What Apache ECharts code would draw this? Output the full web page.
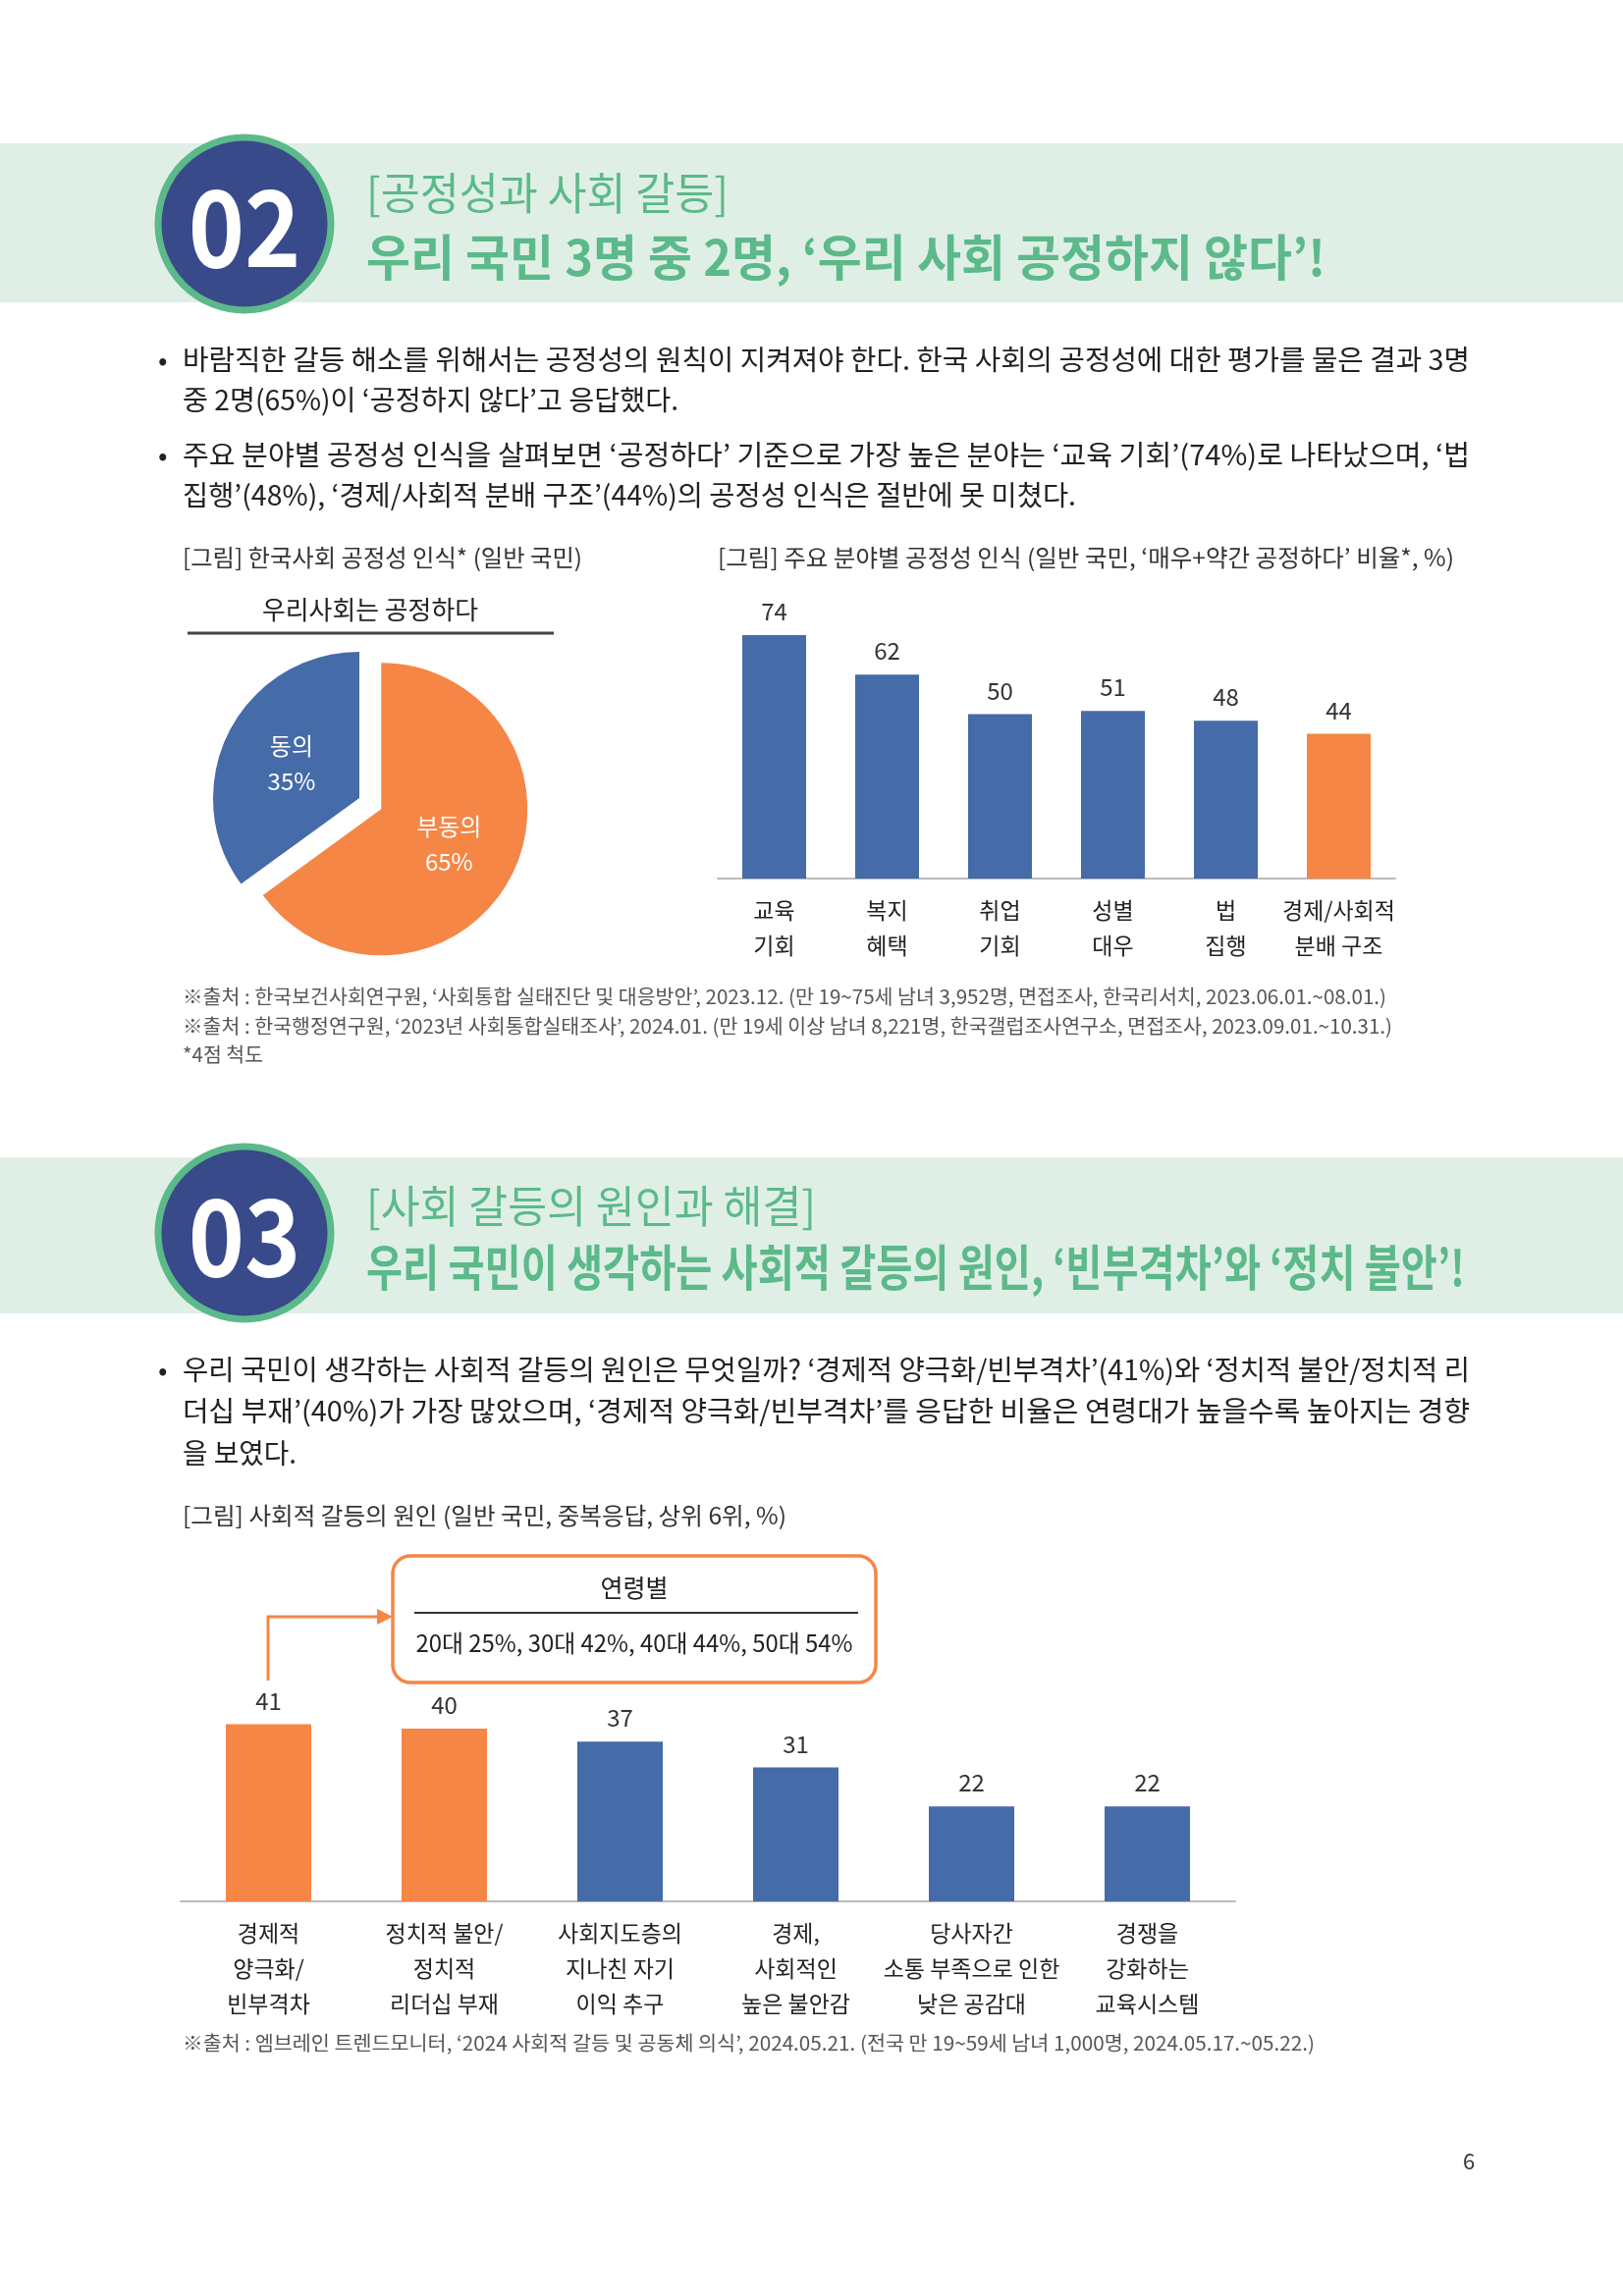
<!DOCTYPE html>
<html><head><meta charset="utf-8">
<script src="https://cdn.jsdelivr.net/npm/echarts@6/dist/echarts.min.js"></script>
<style>html,body{margin:0;padding:0;background:#fff}#c{width:1653px;height:2339px}</style>
</head><body><div id="c"></div>
<script>
const pieNames = ['동의', '부동의'];
const pieValues = [35, 65];
const fieldCats = ['교육\n기회', '복지\n혜택', '취업\n기회', '성별\n대우', '법\n집행', '경제/사회적\n분배 구조'];
const fieldValues = [74, 62, 50, 51, 48, 44];
const causeCats = ['경제적\n양극화/\n빈부격차', '정치적 불안/\n정치적\n리더십 부재', '사회지도층의\n지나친 자기\n이익 추구', '경제,\n사회적인\n높은 불안감', '당사자간\n소통 부족으로 인한\n낮은 공감대', '경쟁을\n강화하는\n교육시스템'];
const causeValues = [41, 40, 37, 31, 22, 22];
const ageText = '20대 25%, 30대 42%, 40대 44%, 50대 54%';

const BLUE = '#456ba8', ORANGE = '#f58646', GREEN = '#5cb98a', NAVY = '#384a8a';
const FONT = '"Noto Sans CJK KR", "Noto Sans", sans-serif';
const cv = document.createElement('canvas').getContext('2d');
function T(text, x, y, size, color, opt) {
  opt = opt || {};
  const w = opt.weight || 'normal';
  let sx = 1;
  if (opt.width) { cv.font = w + ' ' + size + 'px ' + FONT; sx = opt.width / cv.measureText(text).width; }
  return { type: 'text', x: x, y: y, scaleX: sx, z: 10,
    style: { text: text, x: 0, y: 0, fill: color, fontSize: size, fontWeight: w, fontFamily: FONT,
      textAlign: opt.align || 'left', textVerticalAlign: 'middle' } };
}
const g = [];
// section headers
[[146, 308, 228, '02'], [1179, 1338, 1256, '03']].forEach(h => {
  g.push({ type: 'rect', shape: { x: 0, y: h[0], width: 1653, height: h[1] - h[0] }, style: { fill: '#dfefe6' } });
  g.push({ type: 'circle', shape: { cx: 249, cy: h[2], r: 88 }, style: { fill: NAVY, stroke: GREEN, lineWidth: 7 }, z: 5 });
  g.push({ type: 'text', x: 249, y: h[2] + 3, z: 10, scaleX: 0.9, style: { text: h[3], fill: '#fff', fontSize: 108, fontFamily: FONT, fontWeight: 'bold', textAlign: 'center', textVerticalAlign: 'middle' } });
});
g.push(T('[공정성과 사회 갈등]', 373, 197, 45, GREEN, { width: 369 }));
g.push(T('우리 국민 3명 중 2명, ‘우리 사회 공정하지 않다’!', 373, 262, 50, GREEN, { width: 977, weight: 'bold' }));
g.push(T('[사회 갈등의 원인과 해결]', 373, 1229, 45, GREEN, { width: 458 }));
g.push(T('우리 국민이 생각하는 사회적 갈등의 원인, ‘빈부격차’와 ‘정치 불안’!', 373, 1291, 50, GREEN, { width: 1119, weight: 'bold' }));
// body
const TX = '#222';
[[366, '바람직한 갈등 해소를 위해서는 공정성의 원칙이 지켜져야 한다. 한국 사회의 공정성에 대한 평가를 물은 결과 3명', 1311, true],
 [407, '중 2명(65%)이 ‘공정하지 않다’고 응답했다.', 505],
 [463, '주요 분야별 공정성 인식을 살펴보면 ‘공정하다’ 기준으로 가장 높은 분야는 ‘교육 기회’(74%)로 나타났으며, ‘법', 1311, true],
 [504, '집행’(48%), ‘경제/사회적 분배 구조’(44%)의 공정성 인식은 절반에 못 미쳤다.', 910],
 [1395, '우리 국민이 생각하는 사회적 갈등의 원인은 무엇일까? ‘경제적 양극화/빈부격차’(41%)와 ‘정치적 불안/정치적 리', 1311, true],
 [1437, '더십 부재’(40%)가 가장 많았으며, ‘경제적 양극화/빈부격차’를 응답한 비율은 연령대가 높을수록 높아지는 경향', 1311],
 [1480, '을 보였다.', 116]].forEach(l => {
  if (l[3]) g.push(T('•', 161, l[0], 28, TX));
  g.push(T(l[1], 186, l[0], 28, TX, { width: l[2] }));
});
// captions
g.push(T('[그림] 한국사회 공정성 인식* (일반 국민)', 186, 568, 24, '#333', { width: 407 }));
g.push(T('[그림] 주요 분야별 공정성 인식 (일반 국민, ‘매우+약간 공정하다’ 비율*, %)', 731, 568, 24, '#333', { width: 750 }));
g.push(T('[그림] 사회적 갈등의 원인 (일반 국민, 중복응답, 상위 6위, %)', 186, 1544, 24, '#333', { width: 615 }));
g.push(T('우리사회는 공정하다', 377, 621, 26, '#222', { align: 'center', width: 220 }));
g.push({ type: 'line', shape: { x1: 191, y1: 645, x2: 564, y2: 645 }, style: { stroke: '#444', lineWidth: 3 } });
// footnotes
const FN = '#555';
g.push(T('※출처 : 한국보건사회연구원, ‘사회통합 실태진단 및 대응방안’, 2023.12. (만 19~75세 남녀 3,952명, 면접조사, 한국리서치, 2023.06.01.~08.01.)', 186, 1015, 20, FN, { width: 1226 }));
g.push(T('※출처 : 한국행정연구원, ‘2023년 사회통합실태조사’, 2024.01. (만 19세 이상 남녀 8,221명, 한국갤럽조사연구소, 면접조사, 2023.09.01.~10.31.)', 186, 1045, 20, FN, { width: 1232 }));
g.push(T('*4점 척도', 186, 1074, 20, FN, { width: 82 }));
g.push(T('※출처 : 엠브레인 트렌드모니터, ‘2024 사회적 갈등 및 공동체 의식’, 2024.05.21. (전국 만 19~59세 남녀 1,000명, 2024.05.17.~05.22.)', 186, 2081, 20, FN, { width: 1153 }));
g.push(T('6', 1496, 2202, 22, '#333', { align: 'center' }));
// callout
g.push({ type: 'rect', shape: { x: 400, y: 1585, width: 492, height: 129, r: 18 }, style: { fill: '#fff', stroke: ORANGE, lineWidth: 3.5 } });
g.push(T('연령별', 646, 1617, 25, '#222', { align: 'center' }));
g.push({ type: 'line', shape: { x1: 422, y1: 1643, x2: 874, y2: 1643 }, style: { stroke: '#333', lineWidth: 2 } });
g.push(T(ageText, 646, 1674, 24, '#222', { align: 'center', width: 445 }));
g.push({ type: 'polyline', shape: { points: [[273, 1712], [273, 1647], [388, 1647]] }, style: { stroke: ORANGE, lineWidth: 3, fill: null } });
g.push({ type: 'polygon', shape: { points: [[400, 1647], [384, 1639], [384, 1655]] }, style: { fill: ORANGE } });

function barSeries(vals, gi, hi, bw) {
  return { type: 'bar', xAxisIndex: gi, yAxisIndex: gi, barWidth: bw,
    data: vals.map((v, i) => ({ value: v, itemStyle: { color: hi.includes(i) ? ORANGE : BLUE } })),
    label: { show: true, position: 'top', distance: 12, fontSize: 24, color: '#333', fontFamily: FONT } };
}
const axisX = (cats, gi, lh, m) => ({ type: 'category', gridIndex: gi, data: cats,
  axisLine: { lineStyle: { color: '#bbb', width: 2 } }, axisTick: { show: false },
  axisLabel: { fontSize: 23, color: '#222', lineHeight: lh, margin: m, fontFamily: FONT, interval: 0 } });
const axisY = gi => ({ type: 'value', gridIndex: gi, min: 0, max: 100, show: false });

const chart = echarts.init(document.getElementById('c'));
chart.setOption({
  animation: false,
  grid: [{ left: 731, top: 560, width: 690, height: 335 }, { left: 184, top: 1497, width: 1074, height: 440 }],
  xAxis: [axisX(fieldCats, 0, 36, 14), axisX(causeCats, 1, 36, 14)],
  yAxis: [axisY(0), axisY(1)],
  series: [
    { type: 'pie', center: [366, 813], radius: 149, startAngle: 90, clockwise: false,
      selectedMode: 'single', selectedOffset: 25,
      data: pieNames.map((n, i) => ({ name: n, value: pieValues[i], selected: i === 1, itemStyle: { color: i ? ORANGE : BLUE } })),
      label: { position: 'inner', formatter: '{b}\n{c}%', color: '#fff', fontSize: 24, lineHeight: 36, fontFamily: FONT },
      labelLine: { show: false } },
    barSeries(fieldValues, 0, [5], 65),
    barSeries(causeValues, 1, [0, 1], 87)
  ],
  graphic: g
});
</script></body></html>
